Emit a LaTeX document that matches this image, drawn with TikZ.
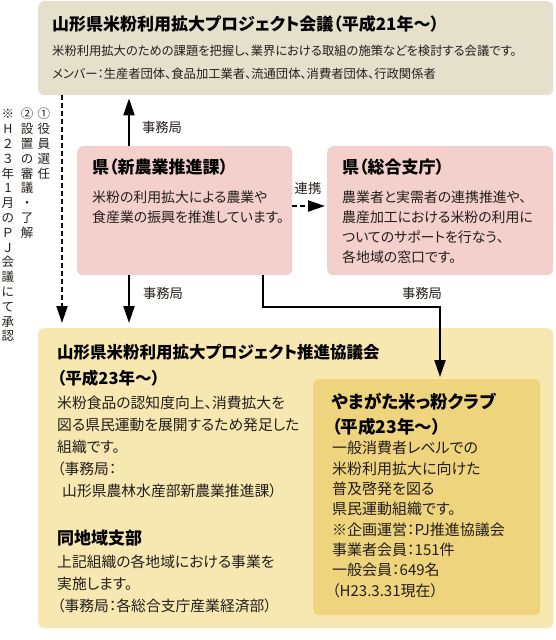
\documentclass[tikz,border=0pt]{standalone}
\usepackage{fontspec}
\newfontfamily\jp[RawFeature=+palt]{Noto Sans CJK JP}
\newfontfamily\jpv{Noto Sans CJK JP}
\usetikzlibrary{arrows.meta}
\definecolor{topbg}{RGB}{228,224,204}
\definecolor{pinkbg}{RGB}{243,208,203}
\definecolor{yelbg}{RGB}{247,232,178}
\definecolor{innbg}{RGB}{238,212,124}
\definecolor{txtc}{RGB}{35,30,28}
\newcommand\jstrut{\rule{0pt}{0.88em}}
\begin{document}
\begin{tikzpicture}[x=1pt,y=-1pt,
  box/.style={rounded corners=6pt, anchor=north west, inner sep=0pt, draw=none},
  ttl/.style={anchor=north west, inner sep=0pt, align=left, text=black, font=\jp\bfseries\fontsize{17}{26}\selectfont},
  body/.style={anchor=north west, inner sep=0pt, align=left, text=txtc},
  lbl/.style={inner sep=0pt, text=txtc, font=\jp\fontsize{13.3}{16}\selectfont},
  vcol/.style={anchor=north, inner sep=0pt, align=center, text=txtc, font=\jpv\fontsize{12.5}{14.8}\selectfont},
  arr/.style={line width=2pt, -{Triangle[length=17pt,width=11pt]}},
  dsh/.style={dash pattern=on 5pt off 3pt},
]
\path[use as bounding box] (0,0) rectangle (555,640);
% boxes
\node[box, fill=topbg, minimum width=515pt, minimum height=94pt] (top) at (38,1) {};
\node[box, fill=pinkbg, minimum width=215pt, minimum height=129pt] (lp) at (77,146) {};
\node[box, fill=pinkbg, minimum width=226pt, minimum height=129pt] (rp) at (327,146) {};
\node[box, fill=yelbg, minimum width=515pt, minimum height=300pt] (yb) at (38,328) {};
\node[box, fill=innbg, minimum width=227pt, minimum height=236pt] (ib) at (313,379) {};
% top box text
\node[ttl] (t0) at (52,15.5) {\jstrut 山形県米粉利用拡大プロジェクト会議（平成21年〜）};
\node[body, font=\jp\fontsize{12.3}{23}\selectfont] (t1) at (52,44.85) {\jstrut 米粉利用拡大のための課題を把握し、業界における取組の施策などを検討する会議です。\\メンバー：生産者団体、食品加工業者、流通団体、消費者団体、行政関係者};
% pink boxes
\node[ttl] (l0) at (92,158.5) {\jstrut 県（新農業推進課）};
\node[body, font=\jp\fontsize{13.9}{20}\selectfont] (l1) at (92,190.05) {\jstrut 米粉の利用拡大による農業や\\食産業の振興を推進しています。};
\node[ttl] (r0) at (342,158.5) {\jstrut 県（総合支庁）};
\node[body, font=\jp\fontsize{13.9}{20}\selectfont] (r1) at (342,190.05) {\jstrut 農業者と実需者の連携推進や、\\農産加工における米粉の利用に\\ついてのサポートを行なう、\\各地域の窓口です。};
% yellow box
\node[ttl, font=\jp\bfseries\fontsize{16.5}{26}\selectfont] (y0) at (57,343.75) {\jstrut 山形県米粉利用拡大プロジェクト推進協議会\\（平成23年〜）};
\node[body, font=\jp\fontsize{14.8}{22}\selectfont] (y1) at (57,395.6) {\jstrut 米粉食品の認知度向上、消費拡大を\\図る県民運動を展開するため発足した\\組織です。\\（事務局：\\\hspace*{5pt}山形県農林水産部新農業推進課）};
\node[ttl] (y2) at (57,529.5) {\jstrut 同地域支部};
\node[body, font=\jp\fontsize{14.8}{22}\selectfont] (y3) at (57,554.6) {\jstrut 上記組織の各地域における事業を\\実施します。\\（事務局：各総合支庁産業経済部）};
% inner box
\node[ttl, font=\jp\bfseries\fontsize{17.5}{25}\selectfont] (i0) at (332,393) {\jstrut やまがた米っ粉クラブ\\（平成23年〜）};
\node[body, font=\jp\fontsize{15}{20.3}\selectfont] (i1) at (332,440.5) {\jstrut 一般消費者レベルでの\\米粉利用拡大に向けた\\普及啓発を図る\\県民運動組織です。\\※企画運営：PJ推進協議会\\事業者会員：151件\\一般会員：649名\\（H23.3.31現在）};
% vertical notes
\node[vcol] (v1) at (44,107.75) {\jstrut ①\\役\\員\\選\\任};
\node[vcol] (v2) at (27,107.75) {\jstrut ②\\設\\置\\の\\審\\議\\・\\了\\解};
\node[vcol] (v3) at (8,107.75) {\jstrut ※\\H\\２\\３\\年\\1\\月\\の\\Ｐ\\Ｊ\\会\\議\\に\\て\\承\\認};
% labels
\node[lbl] (k1) at (162,127) {事務局};
\node[lbl] (k2) at (163,293) {事務局};
\node[lbl] (k3) at (422,293) {事務局};
\node[lbl] (k4) at (308,188) {連携};
% connectors
\coordinate (ax) at (129,0);
\coordinate (dx) at (62,0);
\coordinate (bx) at (263,0);
\coordinate (cx) at (440,0);
\coordinate (ky) at (0,307);
\coordinate (ry) at (0,206);
\draw[arr, shorten >=3pt] (ax |- lp.north) -- (ax |- top.south);
\draw[arr, shorten >=5pt] (ax |- lp.south) -- (ax |- yb.north);
\draw[arr, dsh, shorten >=5pt] (dx |- top.south) -- (dx |- yb.north);
\draw[arr, shorten >=2pt] (bx |- lp.south) -- (bx |- ky) -- (cx |- ky) -- (cx |- ib.north);
\draw[arr, dsh, shorten >=2pt] (lp.east |- ry) -- (rp.west |- ry);
\end{tikzpicture}
\end{document}
